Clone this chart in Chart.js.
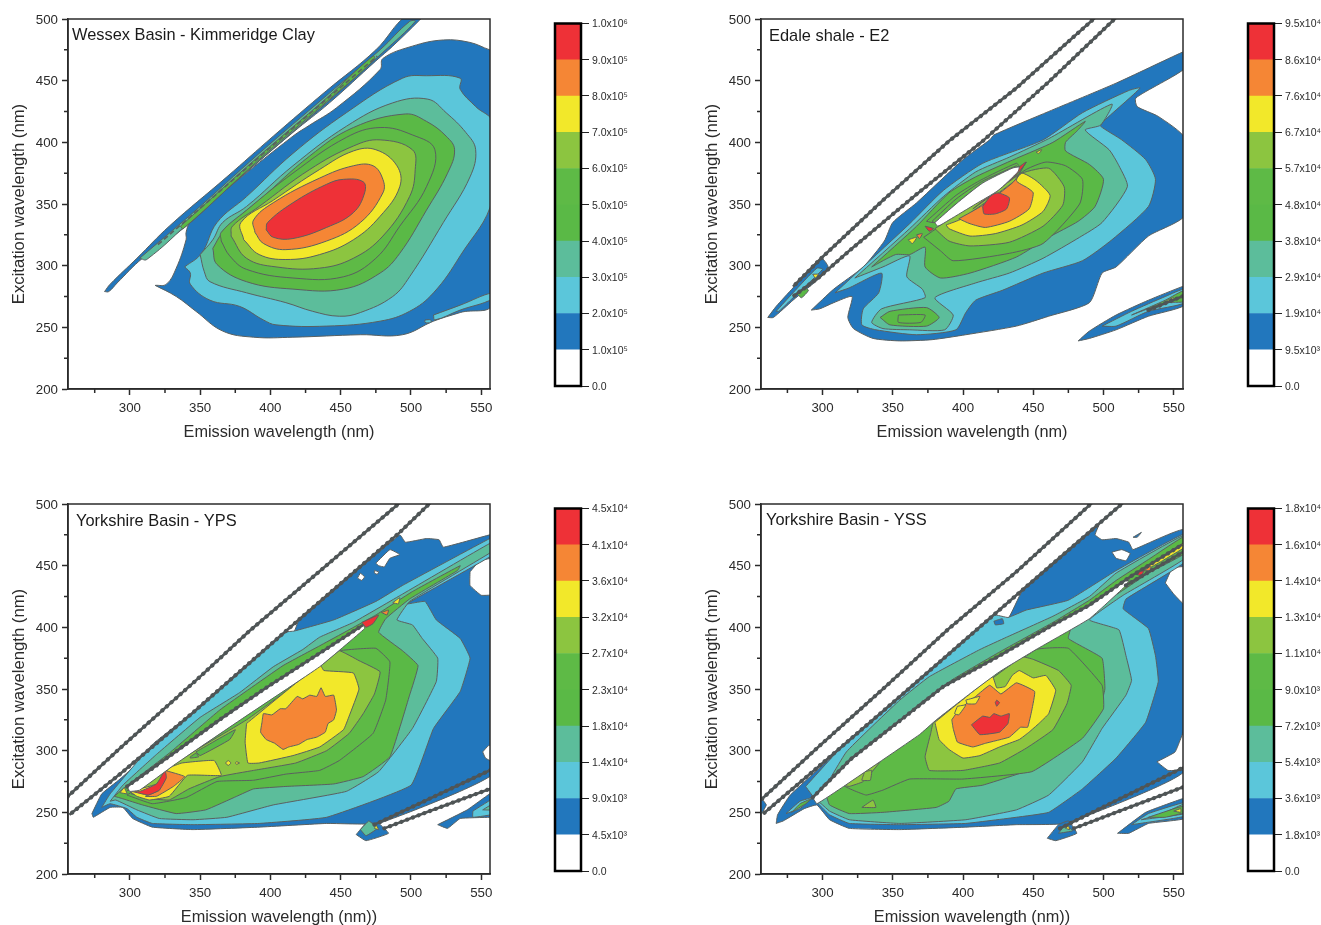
<!DOCTYPE html>
<html>
<head>
<meta charset="utf-8">
<title>Excitation emission contour maps</title>
<script src="https://cdn.jsdelivr.net/npm/chart.js@4"></script>
<style>
    html, body { margin: 0; padding: 0; background: #fff; overflow: hidden; }
    canvas { position: absolute; }
</style>
</head>
<body>
<canvas id="plot1" style="left:0;top:0"></canvas>
<canvas id="bar1" style="left:545px;top:0"></canvas>
<canvas id="plot2" style="left:693px;top:0"></canvas>
<canvas id="bar2" style="left:1238px;top:0"></canvas>
<canvas id="plot3" style="left:0;top:485px"></canvas>
<canvas id="bar3" style="left:545px;top:485px"></canvas>
<canvas id="plot4" style="left:693px;top:485px"></canvas>
<canvas id="bar4" style="left:1238px;top:485px"></canvas>
<script>
const LEVEL_COLORS = ['#ffffff', '#2277bd', '#5bc6da', '#5cbd9b', '#5ab946', '#5eba46', '#8cc540', '#f2e82a', '#f58635', '#ee3137'];
const WHITE = 0, BLUE = 1, SKY = 2, TEAL = 3, GREEN = 4, GREEN2 = 5, LIME = 6, YELLOW = 7, ORANGE = 8, RED = 9;

const xMajor = [300, 350, 400, 450, 500, 550];
const xMinor = [275, 325, 375, 425, 475, 525];
const yMajor = [200, 250, 300, 350, 400, 450, 500];
const yMinor = [225, 275, 325, 375, 425, 475];

const barLabels1 = ['0.0', '1.0x10⁵', '2.0x10⁵', '3.0x10⁵', '4.0x10⁵', '5.0x10⁵', '6.0x10⁵', '7.0x10⁵', '8.0x10⁵', '9.0x10⁵', '1.0x10⁶'];
const barLabels2 = ['0.0', '9.5x10³', '1.9x10⁴', '2.9x10⁴', '3.8x10⁴', '4.8x10⁴', '5.7x10⁴', '6.7x10⁴', '7.6x10⁴', '8.6x10⁴', '9.5x10⁴'];
const barLabels3 = ['0.0', '4.5x10³', '9.0x10³', '1.4x10⁴', '1.8x10⁴', '2.3x10⁴', '2.7x10⁴', '3.2x10⁴', '3.6x10⁴', '4.1x10⁴', '4.5x10⁴'];
const barLabels4 = ['0.0', '1.8x10³', '3.6x10³', '5.4x10³', '7.2x10³', '9.0x10³', '1.1x10⁴', '1.3x10⁴', '1.4x10⁴', '1.6x10⁴', '1.8x10⁴'];

// Wessex Basin - contours as [emission, excitation]
const wessexBody = [[318,284],[326,285],[333,298],[340,321],[340,327],[343,335],[369,362],[416,405],[428,414],[447,428],[478,459],[480,468],[501,478],[523,483],[542,481],[556,475],[558,475],[558,270],[535,262],[516,255],[494,244],[464,244],[416,242],[388,242],[366,247],[347,263],[333,275]];
const wessexBand = [[282,279],[286,285],[305,306],[328,332],[369,372],[402,405],[440,442],[475,475],[497,503],[509,503],[506,499],[487,478],[475,466],[442,432],[416,408],[369,362],[340,332],[309,306],[291,286],[285,279]];
const wessexBandTeal = [[307,306],[345,343],[392,391],[440,438],[478,475],[499,498],[503,498],[480,473],[440,432],[392,385],[345,338],[312,305]];
const wessexBandGreen = [[336,332],[392,389],[440,436],[473,470],[474,467],[440,433],[392,386],[338,330]];
const wessexBandLine = [[320,317],[392,388],[440,435],[476,470]];
const wessexSky = [[339,299],[351,310],[362,335],[383,356],[416,391],[454,424],[494,452],[511,454],[535,452],[535,443],[546,429],[558,416],[558,354],[535,308],[516,278],[499,263],[478,255],[440,251],[404,252],[395,256],[378,267],[357,272],[343,285],[343,294]];
const wessexStrip = [[516,260],[535,268],[558,278],[558,273],[535,264],[517,256]];
const wessexSpot = [[510,256],[514,256],[514,254],[510,254]];
const wessexTeal = [[350,309],[359,321],[366,335],[383,348],[416,381],[454,413],[487,432],[512,435],[525,424],[539,408],[546,394],[542,372],[523,335],[499,291],[487,275],[464,262],[449,259],[430,263],[411,270],[383,278],[357,287],[353,295]];
const wessexGreen = [[359,314],[366,327],[378,340],[392,353],[428,389],[459,412],[496,423],[511,417],[525,405],[531,394],[526,375],[511,345],[492,310],[478,294],[452,281],[416,281],[383,287],[362,301]];
const wessexGreen2 = [[365,320],[365,327],[383,345],[416,375],[454,404],[478,412],[501,406],[517,394],[511,364],[492,332],[475,306],[452,291],[416,290],[383,297],[371,308]];
const wessexLime = [[372,324],[373,332],[392,348],[428,378],[459,397],[478,402],[501,394],[503,378],[499,356],[480,324],[459,306],[435,298],[404,299],[383,306]];
const wessexYellow = [[381,321],[379,335],[402,353],[435,378],[459,393],[475,394],[490,381],[492,364],[478,340],[459,321],[435,309],[411,305],[392,309]];
const wessexOrange = [[389,327],[388,337],[402,351],[435,371],[459,381],[473,381],[480,370],[480,359],[464,335],[440,320],[411,313],[395,318]];
const wessexRed = [[397,329],[398,335],[416,351],[440,366],[452,370],[466,368],[467,359],[459,343],[440,331],[416,322],[402,323]];

// Edale shale
const edaleBody = [[292,264],[308,281],[329,299],[344,320],[350,335],[367,351],[400,386],[419,402],[422,406],[461,425],[509,448],[556,473],[558,473],[558,460],[523,436],[524,429],[539,421],[558,403],[558,341],[532,324],[509,299],[499,294],[490,270],[461,259],[438,251],[402,244],[378,240],[355,239],[336,241],[322,249],[318,258],[321,275],[308,270],[298,265]];
const edaleSky = [[309,278],[326,296],[362,334],[386,361],[414,383],[457,402],[485,424],[518,442],[526,444],[499,416],[498,413],[513,402],[530,386],[537,370],[532,348],[506,321],[485,304],[457,294],[428,280],[409,272],[402,262],[395,248],[367,244],[338,248],[328,252],[329,265],[340,278],[342,294],[319,282]];
const edaleTeal = [[323,290],[362,330],[386,356],[409,376],[433,388],[461,403],[506,431],[498,414],[487,410],[504,394],[511,381],[517,364],[499,335],[483,323],[457,306],[433,294],[409,286],[380,274],[393,260],[387,248],[362,248],[343,249],[335,254],[342,265],[373,274],[371,281],[360,291],[362,308],[343,299]];
const edaleGreen = [[335,299],[367,332],[390,359],[409,372],[438,387],[464,400],[487,417],[481,409],[473,400],[473,393],[490,382],[500,370],[494,348],[482,336],[461,323],[438,307],[405,294],[384,290],[373,299],[373,315],[362,309],[352,309]];
const edaleGreen2 = [[372,323],[390,337],[419,358],[445,378],[459,384],[473,381],[485,370],[483,350],[457,318],[433,310],[393,304],[384,312]];
const edaleLime = [[380,330],[400,345],[425,362],[442,375],[461,379],[472,364],[471,349],[457,332],[433,319],[405,316],[390,320]];
const edaleYellow = [[388,333],[399,338],[436,368],[442,375],[452,369],[462,357],[457,344],[442,333],[423,326],[405,324],[390,330]];
const edaleOrange = [[397,338],[414,349],[436,368],[445,384],[438,369],[446,363],[450,359],[447,346],[433,336],[416,331],[405,334]];
const edaleRed = [[414,348],[420,357],[425,359],[433,355],[431,346],[423,342],[415,342]];
const edaleRedStrip = [[407,346],[421,359],[440,380],[445,384],[439,375],[425,361]];
const edaleStripe = [[374,336],[395,357],[412,369],[438,383],[440,380],[414,367],[395,350],[380,335]];
const edaleStripe2 = [[378,336],[395,354],[413,368],[438,381],[439,380],[414,367],[395,350],[380,335]];
const edaleSlit = [[380,335],[395,350],[414,367],[435,379],[440,380],[439,376],[425,361],[409,350],[390,337],[382,332]];
const edaleSpotRed = [[373,332],[379,330],[376,328]];
const edaleSpotOrange = [[367,325],[371,326],[369,322]];
const edaleSpotYellow = [[361,321],[367,323],[364,318]];
const edaleTipYellow = [[452,392],[456,394],[454,391]];
const edaleTipBlue = [[261,258],[267,267],[279,282],[299,306],[304,299],[299,291],[279,272],[265,258]];
const edaleTipSky = [[267,263],[279,278],[296,298],[300,297],[279,274],[269,263]];
const edaleTipGreen = [[282,277],[287,282],[290,280],[285,274]];
const edaleTipMark = [[293,293],[297,293],[295,290]];
const edaleLowBlue = [[482,239],[490,247],[509,260],[532,272],[556,283],[558,283],[558,268],[532,259],[509,248],[490,241]];
const edaleLowSky = [[499,251],[520,263],[544,275],[558,281],[558,270],[532,263],[509,251]];
const edaleLowGreen = [[520,260],[544,272],[558,280],[558,271],[544,270]];
const edaleLowYellow = [[544,271],[550,274],[549,270]];
const edaleLobeGreen = [[341,258],[348,263],[374,266],[383,258],[374,251],[348,252]];
const edaleLobeCore = [[354,260],[373,260],[370,254],[354,254]];
const edaleLineA = [[495,502],[492,499],[438,444],[390,401],[343,353],[299,306],[279,283]];
const edaleLineB = [[510,502],[507,499],[461,449],[414,401],[367,358],[319,312],[298,291],[279,275]];
const edaleLineC = [[532,264],[558,276]];

// Yorkshire Basin - YPS
const ypsBody = [[273,249],[280,265],[293,277],[345,329],[417,397],[420,405],[492,475],[496,469],[511,472],[520,471],[523,465],[556,475],[560,475],[560,283],[477,241],[440,241],[392,238],[345,236],[316,238],[302,245],[295,254],[286,254],[274,246]];
const ypsHole1 = [[464,444],[467,441],[465,438],[462,440]];
const ypsHole2 = [[474,446],[477,445],[476,443],[474,444]];
const ypsHole3 = [[475,452],[485,463],[492,459],[485,456],[481,449],[477,450]];
const ypsHole4 = [[542,445],[549,454],[560,456],[560,427],[550,426],[542,434]];
const ypsHole5 = [[551,299],[555,304],[560,305],[560,290],[553,294]];
const ypsBlob = [[461,232],[468,241],[477,241],[484,233],[468,227]];
const ypsBlobTeal = [[464,236],[470,243],[476,237],[468,231]];
const ypsBlobYellow = [[474,237],[475,240],[477,236]];
const ypsLowBlue = [[519,240],[540,252],[556,265],[560,266],[560,247],[556,246],[535,245],[526,237]];
const ypsLowSky = [[544,251],[560,262],[560,249],[544,246]];
const ypsLowTeal = [[551,252],[560,258],[560,252]];
const ypsSky = [[280,254],[286,265],[316,305],[345,331],[410,396],[417,397],[445,406],[475,421],[494,434],[556,472],[560,473],[560,460],[497,419],[510,421],[518,406],[535,391],[542,375],[535,348],[516,318],[500,272],[440,246],[392,241],[345,240],[316,241],[305,246],[298,253],[286,257]];
const ypsTeal = [[286,259],[295,272],[319,297],[350,327],[378,347],[402,368],[423,382],[435,392],[459,404],[494,427],[556,468],[560,467],[560,463],[499,421],[490,406],[501,402],[508,391],[519,375],[518,356],[501,318],[477,283],[454,267],[402,256],[369,246],[345,244],[321,245],[305,252],[290,260]];
const ypsGreen = [[289,263],[295,269],[328,298],[364,333],[385,350],[409,369],[435,385],[475,410],[501,429],[535,450],[533,446],[499,423],[482,407],[477,396],[494,381],[505,369],[499,345],[485,295],[466,279],[445,273],[411,271],[388,269],[376,263],[354,252],[333,249],[309,256],[295,261]];
const ypsGreen2 = [[298,264],[345,299],[437,372],[449,381],[475,383],[485,372],[482,341],[473,314],[449,292],[435,284],[411,281],[388,276],[362,275],[340,262],[316,257]];
const ypsLime = [[301,265],[333,291],[383,325],[437,370],[449,381],[463,373],[478,364],[474,346],[466,330],[456,314],[440,300],[418,290],[388,284],[364,279],[342,269],[328,260],[316,261]];
const ypsPatch = [[347,299],[375,317],[371,309],[350,296]];
const ypsPatch2 = [[343,295],[347,298],[349,295],[343,294]];
const ypsDot1 = [[368,290],[370,292],[372,290],[370,288]];
const ypsDot2 = [[375,290],[376,291],[378,290],[376,289]];
const ypsYellow = [[383,322],[435,370],[438,365],[459,363],[463,350],[456,328],[452,317],[435,303],[416,296],[392,290],[384,290],[382,307]];
const ypsYellow2 = [[300,267],[319,273],[328,286],[337,290],[360,292],[365,280],[341,280],[328,263],[314,260],[305,263]];
const ypsOrange = [[394,323],[395,330],[401,329],[407,334],[411,334],[419,344],[423,342],[428,345],[433,344],[436,351],[439,344],[445,345],[447,333],[445,325],[441,322],[439,315],[433,311],[426,309],[420,305],[413,303],[409,301],[403,306],[397,309],[393,315]];
const ypsOrange2 = [[325,284],[339,279],[331,271],[319,263],[311,263],[321,268]];
const ypsRed = [[298,268],[307,267],[319,273],[325,284],[326,278],[321,268],[313,264]];
const ypsSlit = [[298,271],[330,297],[365,326],[397,351],[435,379],[466,402],[467,399],[435,368],[380,326],[331,288],[307,268],[300,267]];
const ypsTipRed = [[465,404],[477,410],[473,403],[468,400]];
const ypsTipOrange = [[479,412],[484,414],[483,410]];
const ypsTipYellow = [[487,420],[492,424],[491,419]];
const ypsLeftYellow = [[293,266],[296,270],[298,265]];
const ypsLineA = [[493,502],[490,499],[416,427],[385,397],[350,360],[293,302],[255,262]];
const ypsLineB = [[515,502],[512,499],[492,477],[420,406],[345,331],[293,281],[257,248]];
const ypsLineSlit = [[298,271],[330,297],[365,326],[397,351],[435,379],[466,402]];
const ypsLineC = [[474,240],[556,284],[560,286]];
const ypsLineD = [[481,237],[511,250],[556,269],[560,271]];

// Yorkshire Basin - YSS
const yssBody = [[267,241],[268,248],[277,264],[343,332],[432,407],[442,429],[497,484],[494,475],[499,471],[509,472],[518,469],[521,463],[558,479],[558,284],[473,241],[438,240],[402,238],[355,236],[319,237],[305,244],[296,256],[287,253],[272,243]];
const yssHole1 = [[506,461],[513,463],[519,460],[516,454],[509,456]];
const yssFleck = [[521,473],[527,477],[524,473]];
const yssHole2 = [[544,436],[549,448],[558,449],[558,418],[550,427]];
const yssHole3 = [[538,291],[551,299],[558,318],[558,285],[546,284]];
const yssSky = [[288,271],[316,306],[343,332],[390,379],[422,410],[432,408],[445,414],[475,422],[509,446],[558,476],[558,453],[516,423],[514,415],[532,399],[537,377],[539,356],[530,323],[509,294],[485,269],[461,250],[438,246],[402,241],[355,240],[319,241],[305,248],[297,257]];
const yssPatch = [[422,405],[428,407],[429,403],[423,402]];
const yssTeal = [[296,259],[317,299],[355,341],[376,360],[412,382],[431,392],[464,409],[490,425],[509,444],[558,475],[558,456],[514,426],[490,406],[511,398],[516,377],[520,357],[516,345],[499,318],[485,291],[461,264],[438,252],[402,244],[355,241],[319,244],[305,251],[299,257]];
const yssLens = [[300,272],[329,298],[369,338],[393,358],[426,380],[464,404],[490,422],[509,438],[532,455],[558,474],[558,460],[532,444],[519,434],[490,412],[464,394],[426,370],[386,345],[357,320],[329,288]];
const yssGreen = [[302,266],[376,328],[438,378],[478,405],[475,391],[499,375],[501,350],[497,334],[480,313],[456,288],[414,272],[395,269],[390,259],[381,254],[343,250],[319,249],[305,256]];
const yssGreen2 = [[343,268],[362,277],[400,277],[449,283],[485,310],[500,334],[499,353],[475,383],[452,382],[376,321],[343,294],[315,272],[331,264]];
const yssLime = [[377,314],[379,323],[442,376],[450,374],[468,365],[477,353],[474,338],[464,317],[445,302],[426,290],[400,284],[376,284],[373,295]];
const yssLime2 = [[315,272],[331,284],[341,291],[329,275],[319,271]];
const yssLime3 = [[328,254],[336,260],[338,254]];
const yssLime4 = [[330,283],[335,284],[334,276],[328,276]];
const yssYellow = [[380,323],[395,337],[421,360],[424,351],[430,352],[435,361],[440,365],[450,359],[459,361],[466,349],[461,330],[454,322],[447,315],[440,309],[426,303],[412,296],[400,294],[390,301],[383,309]];
const yssOrange = [[392,325],[397,333],[409,344],[419,353],[427,346],[438,355],[451,348],[449,333],[446,319],[441,319],[433,311],[416,306],[407,303],[396,307],[393,318]];
const yssFleck2 = [[402,341],[412,344],[409,338],[403,338]];
const yssFleck3 = [[396,336],[402,337],[397,329],[394,330]];
const yssDot = [[424,341],[426,339],[424,336],[423,339]];
const yssRed = [[406,321],[414,328],[419,327],[422,330],[427,328],[433,330],[432,322],[426,315],[412,313]];
const yssSlit = [[293,262],[320,293],[357,326],[386,352],[426,377],[464,402],[490,418],[519,441],[516,434],[490,407],[452,382],[426,364],[407,348],[381,325],[369,313],[315,271],[296,257]];
const yssTipYellow = [[532,450],[544,459],[558,469],[558,465],[542,454],[534,449]];
const yssTipRed = [[523,443],[530,449],[527,442]];
const yssTipOrange = [[529,446],[534,450],[533,446]];
const yssBlob = [[460,229],[468,240],[475,243],[481,233],[466,227]];
const yssBlobTeal = [[468,233],[473,240],[478,235]];
const yssBlobYellow = [[473,237],[475,239],[476,236]];
const yssLowBlue = [[510,233],[530,250],[556,261],[558,261],[558,245],[532,241],[518,233]];
const yssLowSky = [[520,240],[532,249],[558,258],[558,247],[532,242]];
const yssLowTeal = [[527,244],[544,250],[558,257],[558,249]];
const yssLowGreen = [[532,246],[553,254],[558,255],[558,250],[544,246]];
const yssLowYellow = [[550,251],[555,253],[555,250]];
const yssLeftSky = [[274,249],[284,259],[293,262],[284,253]];
const yssLeftGreen = [[278,250],[284,257],[292,261],[288,257]];
const yssEdge = [[255,246],[255,263],[260,256]];
const yssLineA = [[493,502],[490,499],[438,445],[390,399],[343,350],[296,302],[257,261]];
const yssLineB = [[515,502],[512,499],[442,430],[343,332],[296,286],[258,249]];
const yssLineE = [[293,262],[320,293],[357,326],[386,352],[426,377],[464,402],[490,418],[519,441],[556,467]];
const yssLineF = [[516,434],[558,462]];
const yssLineC = [[469,237],[558,287]];
const yssLineD = [[479,237],[509,250],[558,271]];

const plots = [
    {
        id: 'plot1', name: 'Wessex Basin - Kimmeridge Clay', labelPos: [72, 35], xTitle: 'Emission wavelength (nm)',
        xRange: [256, 556.2], top: 19, tension: 0.4,
        layers: [[BLUE, wessexBody], [BLUE, wessexBand], [TEAL, wessexBandTeal], [GREEN, wessexBandGreen], [SKY, wessexSky], [SKY, wessexStrip], [SKY, wessexSpot],
            [TEAL, wessexTeal], [GREEN, wessexGreen], [GREEN2, wessexGreen2], [LIME, wessexLime], [YELLOW, wessexYellow], [ORANGE, wessexOrange], [RED, wessexRed]],
        lines: [], thin: [wessexBandLine]
    },
    {
        id: 'plot2', name: 'Edale shale - E2', labelPos: [76, 36], xTitle: 'Emission wavelength (nm)',
        xRange: [256.2, 556.6], top: 19, tension: 0.2,
        layers: [[BLUE, edaleBody], [SKY, edaleSky], [TEAL, edaleTeal], [GREEN, edaleGreen], [GREEN2, edaleGreen2], [LIME, edaleLime], [YELLOW, edaleYellow], [ORANGE, edaleOrange],
            [RED, edaleRed], [RED, edaleRedStrip], [GREEN2, edaleStripe], [GREEN2, edaleStripe2], [WHITE, edaleSlit], [RED, edaleSpotRed], [ORANGE, edaleSpotOrange], [YELLOW, edaleSpotYellow], [YELLOW, edaleTipYellow],
            [BLUE, edaleTipBlue], [SKY, edaleTipSky], [GREEN, edaleTipGreen], [YELLOW, edaleTipMark],
            [BLUE, edaleLowBlue], [SKY, edaleLowSky], [GREEN, edaleLowGreen], [YELLOW, edaleLowYellow], [GREEN, edaleLobeGreen], [GREEN2, edaleLobeCore]],
        lines: [edaleLineA, edaleLineB, edaleLineC], thin: []
    },
    {
        id: 'plot3', name: 'Yorkshire Basin - YPS', labelPos: [76, 36], xTitle: 'Emission wavelength (nm))',
        xRange: [256, 556.2], top: 19, tension: 0.1,
        layers: [[BLUE, ypsBody], [WHITE, ypsHole1], [WHITE, ypsHole2], [WHITE, ypsHole3], [WHITE, ypsHole4], [WHITE, ypsHole5],
            [BLUE, ypsBlob], [TEAL, ypsBlobTeal], [YELLOW, ypsBlobYellow], [BLUE, ypsLowBlue], [SKY, ypsLowSky], [TEAL, ypsLowTeal],
            [SKY, ypsSky], [TEAL, ypsTeal], [GREEN, ypsGreen], [GREEN2, ypsGreen2], [LIME, ypsLime], [GREEN, ypsPatch], [GREEN, ypsPatch2], [YELLOW, ypsDot1], [YELLOW, ypsDot2],
            [YELLOW, ypsYellow], [YELLOW, ypsYellow2], [ORANGE, ypsOrange], [ORANGE, ypsOrange2], [RED, ypsRed], [WHITE, ypsSlit], [RED, ypsTipRed], [ORANGE, ypsTipOrange], [YELLOW, ypsTipYellow], [YELLOW, ypsLeftYellow]],
        lines: [ypsLineA, ypsLineB, ypsLineSlit, ypsLineC, ypsLineD], thin: []
    },
    {
        id: 'plot4', name: 'Yorkshire Basin - YSS', labelPos: [73, 35], xTitle: 'Emission wavelength (nm))',
        xRange: [256.2, 556.6], top: 19, tension: 0.1,
        layers: [[BLUE, yssBody], [WHITE, yssHole1], [BLUE, yssFleck], [WHITE, yssHole2], [WHITE, yssHole3], [SKY, yssSky], [BLUE, yssPatch], [TEAL, yssTeal], [GREEN, yssLens],
            [GREEN, yssGreen], [GREEN2, yssGreen2], [LIME, yssLime], [LIME, yssLime2], [LIME, yssLime3], [LIME, yssLime4], [YELLOW, yssYellow], [ORANGE, yssOrange], [YELLOW, yssFleck2], [YELLOW, yssFleck3], [RED, yssDot], [RED, yssRed],
            [WHITE, yssSlit], [ORANGE, yssTipOrange], [YELLOW, yssTipYellow], [RED, yssTipRed], [BLUE, yssBlob], [TEAL, yssBlobTeal], [YELLOW, yssBlobYellow],
            [BLUE, yssLowBlue], [SKY, yssLowSky], [TEAL, yssLowTeal], [GREEN, yssLowGreen], [YELLOW, yssLowYellow], [SKY, yssLeftSky], [GREEN, yssLeftGreen], [BLUE, yssEdge]],
        lines: [yssLineA, yssLineB, yssLineE, yssLineF, yssLineC, yssLineD], thin: []
    }
];

const bars = [
    { id: 'bar1', labels: barLabels1 },
    { id: 'bar2', labels: barLabels2 },
    { id: 'bar3', labels: barLabels3 },
    { id: 'bar4', labels: barLabels4 }
];

const FONT = '"Liberation Sans", Arial, sans-serif';
const INK = '#2b2b2b';
const CONTOUR = '#5a6060';
const BAND = '#4f5556';

Chart.defaults.animation = false;
Chart.defaults.font.family = FONT;
Chart.defaults.color = INK;

function toPoints(poly) {
    return poly.map(p => ({ x: p[0], y: p[1] }));
}

function noPadding(scale) {
    scale.paddingLeft = 0;
    scale.paddingRight = 0;
    scale.paddingTop = 0;
    scale.paddingBottom = 0;
}

function makePlot(cfg) {
    const canvas = document.getElementById(cfg.id);
    canvas.width = 520;
    canvas.height = 450;
    canvas.style.width = '520px';
    canvas.style.height = '450px';

    const total = cfg.layers.length + cfg.lines.length * 2 + cfg.thin.length;
    const datasets = [];
    cfg.layers.forEach((layer, i) => {
        datasets.push({
            data: toPoints(layer[1].concat([layer[1][0]])),
            showLine: true,
            fill: 'shape',
            backgroundColor: LEVEL_COLORS[layer[0]],
            borderColor: CONTOUR,
            borderWidth: 1,
            pointRadius: 0,
            tension: cfg.tension,
            order: total - i
        });
    });
    cfg.thin.forEach(line => {
        datasets.push({
            data: toPoints(line),
            showLine: true,
            fill: false,
            borderColor: CONTOUR,
            borderWidth: 1.6,
            borderDash: [5, 3],
            pointRadius: 0,
            order: 1
        });
    });
    // scatter bands: solid core with round beads on top, like the lumpy lines in the original
    cfg.lines.forEach(line => {
        datasets.push({
            data: toPoints(line),
            showLine: true,
            fill: false,
            borderColor: BAND,
            borderWidth: 2.6,
            pointRadius: 0,
            order: 1
        });
        datasets.push({
            data: toPoints(line),
            showLine: true,
            fill: false,
            borderColor: BAND,
            borderWidth: 4.2,
            borderDash: [0.1, 6],
            borderCapStyle: 'round',
            pointRadius: 0,
            order: 1
        });
    });

    const frame = {
        id: 'frame',
        afterDatasetsDraw(chart) {
            const ctx = chart.ctx;
            const a = chart.chartArea;
            const sx = chart.scales.x, sy = chart.scales.y;
            ctx.save();
            ctx.strokeStyle = INK;
            ctx.lineWidth = 1.5;
            ctx.strokeRect(a.left, a.top, a.right - a.left, a.bottom - a.top);
            ctx.beginPath();
            xMinor.forEach(v => {
                const px = sx.getPixelForValue(v);
                ctx.moveTo(px, a.bottom);
                ctx.lineTo(px, a.bottom + 4);
            });
            yMinor.forEach(v => {
                const py = sy.getPixelForValue(v);
                ctx.moveTo(a.left, py);
                ctx.lineTo(a.left - 4, py);
            });
            ctx.stroke();
            ctx.fillStyle = '#1a1a1a';
            ctx.font = '16.4px ' + FONT;
            ctx.textBaseline = 'middle';
            ctx.fillText(cfg.name, cfg.labelPos[0], cfg.labelPos[1]);
            ctx.restore();
        }
    };

    return new Chart(canvas, {
        type: 'scatter',
        data: { datasets },
        plugins: [frame],
        options: {
            responsive: false,
            layout: { padding: { left: 0, top: cfg.top, right: 30, bottom: 0 } },
            plugins: { legend: { display: false }, tooltip: { enabled: false } },
            scales: {
                x: {
                    type: 'linear',
                    min: cfg.xRange[0],
                    max: cfg.xRange[1],
                    afterBuildTicks: s => { s.ticks = xMajor.map(v => ({ value: v })); },
                    afterFit: s => { s.height = 61; noPadding(s); },
                    grid: { drawOnChartArea: false, tickLength: 6, tickColor: INK, tickWidth: 1.5 },
                    border: { color: INK, width: 1.5 },
                    ticks: { autoSkip: false, maxRotation: 0, padding: 5, font: { size: 13.3 } },
                    title: { display: true, text: cfg.xTitle, font: { size: 16.3 }, padding: { top: 0, bottom: 8 } }
                },
                y: {
                    type: 'linear',
                    min: 200,
                    max: 500,
                    afterBuildTicks: s => { s.ticks = yMajor.map(v => ({ value: v })); },
                    afterFit: s => { s.width = 68; noPadding(s); },
                    grid: { drawOnChartArea: false, tickLength: 6, tickColor: INK, tickWidth: 1.5 },
                    border: { color: INK, width: 1.5 },
                    ticks: { autoSkip: false, padding: 4, labelOffset: 1, font: { size: 13.3 } },
                    title: { display: true, text: 'Excitation wavelength (nm)', font: { size: 16.7 }, padding: { top: 9, bottom: 0 } }
                }
            }
        }
    });
}

function makeBar(cfg) {
    const canvas = document.getElementById(cfg.id);
    canvas.width = 83;
    canvas.height = 400;
    canvas.style.width = '83px';
    canvas.style.height = '400px';

    const datasets = LEVEL_COLORS.map(c => ({
        data: [1],
        backgroundColor: c,
        borderWidth: 0,
        barPercentage: 1,
        categoryPercentage: 1,
        stack: 'levels'
    }));

    const outline = {
        id: 'outline',
        afterDatasetsDraw(chart) {
            const a = chart.chartArea;
            chart.ctx.save();
            chart.ctx.strokeStyle = '#000';
            chart.ctx.lineWidth = 2.5;
            chart.ctx.strokeRect(a.left, a.top, a.right - a.left, a.bottom - a.top);
            chart.ctx.restore();
        }
    };

    return new Chart(canvas, {
        type: 'bar',
        data: { labels: [''], datasets },
        plugins: [outline],
        options: {
            responsive: false,
            layout: { padding: { left: 10, top: 23.5, right: 0, bottom: 14 } },
            plugins: { legend: { display: false }, tooltip: { enabled: false } },
            scales: {
                x: { display: false, stacked: true },
                y: {
                    position: 'right',
                    stacked: true,
                    min: 0,
                    max: 10,
                    afterBuildTicks: s => { s.ticks = cfg.labels.map((l, i) => ({ value: i })); },
                    afterFit: s => { s.width = 47; noPadding(s); },
                    grid: { drawOnChartArea: false, tickLength: 8, tickColor: '#222', tickWidth: 1 },
                    border: { display: false },
                    ticks: {
                        autoSkip: false,
                        padding: 3,
                        labelOffset: 1,
                        font: { size: 10.5 },
                        callback: v => cfg.labels[v]
                    }
                }
            }
        }
    });
}

plots.forEach(makePlot);
bars.forEach(makeBar);
</script>
</body>
</html>
